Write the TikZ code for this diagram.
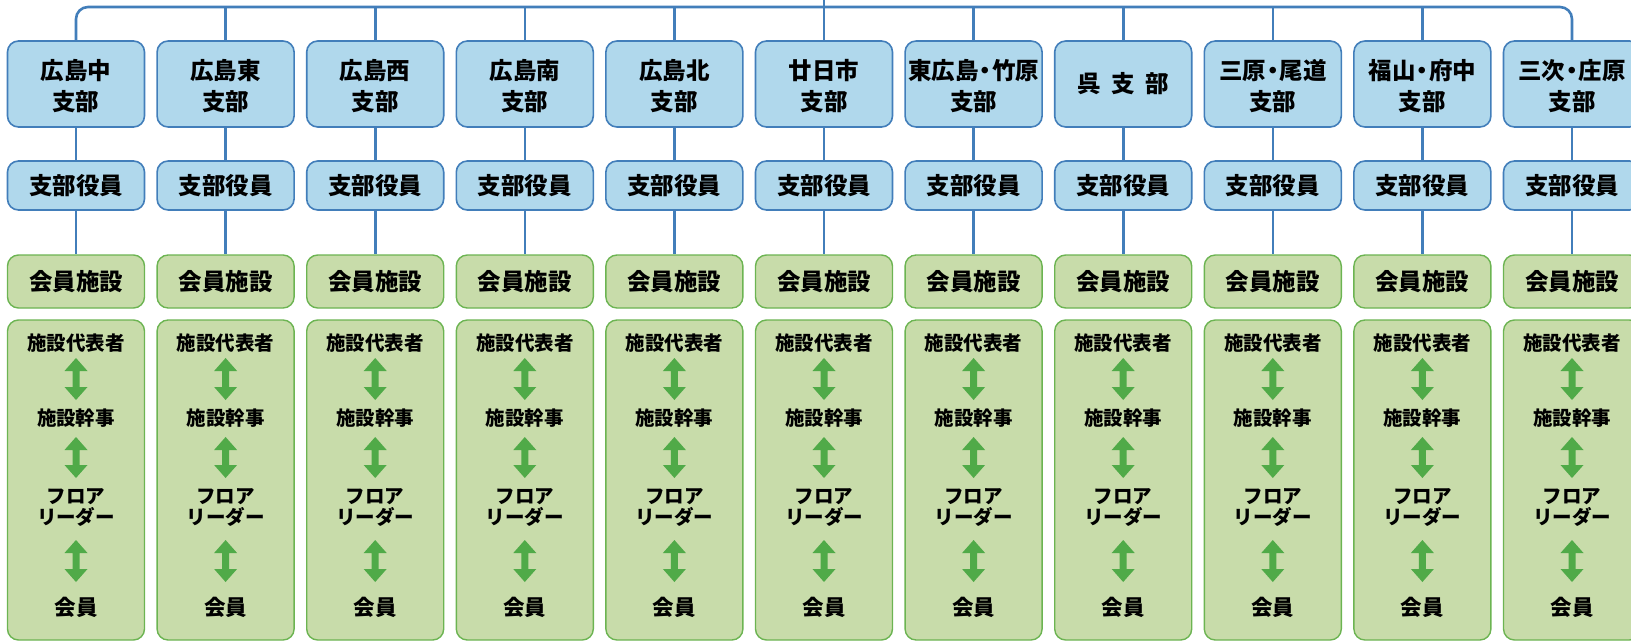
\documentclass[tikz,border=0pt]{standalone}
\usepackage{fontspec}
\setmainfont{Noto Sans CJK JP}
\definecolor{bfill}{RGB}{176,216,236}
\definecolor{bline}{RGB}{66,126,186}
\definecolor{gfill}{RGB}{200,220,170}
\definecolor{gline}{RGB}{108,180,82}
\definecolor{garrow}{RGB}{80,170,72}
\newcommand\ndot{\kern-5pt・\kern-5pt}
\newcommand\dblarrow[3]{%
  \fill[garrow] (#1,#2) -- ({#1+11.5},{#2+13}) -- ({#1+3.5},{#2+13}) -- ({#1+3.5},{#3-13}) -- ({#1+11.5},{#3-13}) -- (#1,#3) -- ({#1-11.5},{#3-13}) -- ({#1-3.5},{#3-13}) -- ({#1-3.5},{#2+13}) -- ({#1-11.5},{#2+13}) -- cycle;}
\tikzset{
  bbox/.style={draw=bline, fill=bfill, line width=1.6pt, rounded corners=11pt, minimum width=137pt, inner sep=0pt},
  gbox/.style={draw=gline, fill=gfill, line width=1.4pt, rounded corners=11pt, minimum width=137pt, inner sep=0pt},
  conn/.style={draw=bline, line width=2.6pt},
  bigtxt/.style={font=\bfseries\fontsize{23.5}{31}\selectfont, align=center, inner sep=0pt},
  smalltxt/.style={font=\bfseries\fontsize{19.5}{21}\selectfont, align=center, inner sep=0pt},
  midtxt/.style={font=\bfseries\fontsize{21.5}{24}\selectfont, align=center, inner sep=0pt},
}
\begin{document}
\begin{tikzpicture}[x=1pt,y=-1pt]
\useasboundingbox (0,0) rectangle (1631,643);
% top bus
\coordinate (top) at (824,0);
\coordinate (busM) at (824,7);
\foreach \i/\na/\nb in {1/広島中/支部, 2/広島東/支部, 3/広島西/支部, 4/広島南/支部, 5/広島北/支部, 6/廿日市/支部, 7/東広島\ndot 竹原/支部, 8/呉\ \ 支\ \ 部/, 9/三原\ndot 尾道/支部, 10/福山\ndot 府中/支部, 11/三次\ndot 庄原/支部}{
  \pgfmathsetmacro\x{76+149.6*(\i-1)}
  \node[bbox, minimum height=86pt] (b\i) at (\x,84) {};
  \ifnum\i=8
    \node[bigtxt] at (\x,84) {\na};
  \else
    \node[bigtxt] at (\x,86) {\na\\\nb};
  \fi
  \node[bbox, minimum height=49pt] (o\i) at (\x,185.5) {};
  \node[bigtxt] at (o\i) {支部役員};
  \node[gbox, minimum height=53pt] (f\i) at (\x,281.5) {};
  \node[bigtxt] at (f\i) {会員施設};
  \node[gbox, minimum height=320pt] (g\i) at (\x,480) {};
  \node[smalltxt] at (\x,343) {施設代表者};
  \node[smalltxt] at (\x,418) {施設幹事};
  \node[smalltxt] at (\x,507.5) {フロア\\リーダー};
  \node[midtxt] at (\x,607) {会員};
  \dblarrow{\x}{358}{400}
  \dblarrow{\x}{437}{478}
  \dblarrow{\x}{540}{582}
  \coordinate (t\i) at (\x,7);
  \draw[conn] (b\i.south) -- (o\i.north);
  \draw[conn] (o\i.south) -- (f\i.north);
}
\draw[conn, rounded corners=12pt] (b1.north) -- (t1) -- (t11) -- (b11.north);
\foreach \i in {2,...,10}{\draw[conn] (t\i) -- (b\i.north);}
\draw[conn] (top) -- (busM);
\end{tikzpicture}
\end{document}
